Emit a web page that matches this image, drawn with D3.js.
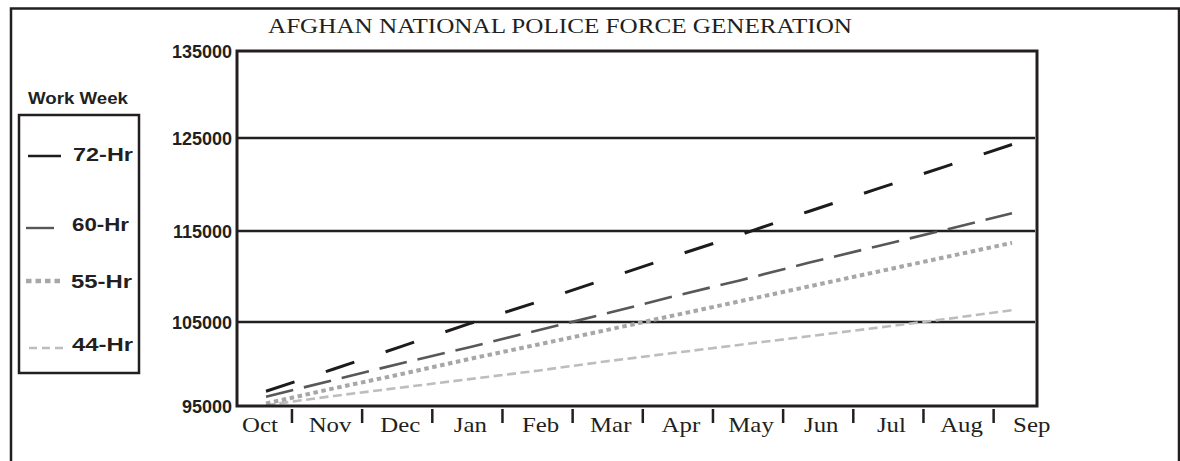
<!DOCTYPE html>
<html>
<head>
<meta charset="utf-8">
<script src="https://cdn.jsdelivr.net/npm/d3@7"></script>
<style>
  html, body { margin: 0; padding: 0; background: #fff; }
  svg { display: block; }
</style>
</head>
<body>
<div id="chart"></div>
<script>
// ---------------- data ----------------
const months = ["Oct","Nov","Dec","Jan","Feb","Mar","Apr","May","Jun","Jul","Aug","Sep"];
const yTicks = [95000, 105000, 115000, 125000, 135000];
const gridValues = [105000, 115000, 125000];
const seriesNames = ["72-Hr", "60-Hr", "55-Hr", "44-Hr"];
const hr72 = [96750, 99400, 102100, 104800, 107200, 109700, 112200, 114600, 117100, 119500, 121900, 124300];
const hr60 = [96100, 98100, 100100, 102000, 104000, 105900, 107800, 109600, 111500, 113300, 115100, 116900];
const hr55 = [95300, 97100, 98800, 100600, 102300, 104000, 105700, 107300, 108900, 110500, 112100, 113700];
const hr44 = [95100, 96200, 97200, 98200, 99200, 100300, 101300, 102300, 103300, 104300, 105300, 106300];
const titleText = "AFGHAN NATIONAL POLICE FORCE GENERATION";
const legendTitle = "Work Week";

// ---------------- layout / styles ----------------
const W = 1180, H = 461;
const plot = { left: 237, top: 51, right: 1037, bottom: 406 };
const ink = "#231f20";
const styles = {
  "72-Hr": { color: "#1e1b1c", width: 3,   dash: "30,33",   legendDash: null },
  "60-Hr": { color: "#58585a", width: 2.6, dash: "28,11",   legendDash: null },
  "55-Hr": { color: "#a7a7a9", width: 4,   dash: "4.5,3.6", legendDash: "5.5,4" },
  "44-Hr": { color: "#bdbdbf", width: 2.6, dash: "9,4.5",   legendDash: "8,5" }
};
const seriesData = { "72-Hr": hr72, "60-Hr": hr60, "55-Hr": hr55, "44-Hr": hr44 };

const svg = d3.select("#chart").append("svg")
  .attr("width", W).attr("height", H)
  .attr("viewBox", `0 0 ${W} ${H}`);

svg.append("rect").attr("width", W).attr("height", H).attr("fill", "#fff");

// outer frame (open at bottom)
svg.append("path")
  .attr("d", `M11,${H} L11,8.5 L1179,8.5 L1179,${H}`)
  .attr("fill", "none").attr("stroke", ink).attr("stroke-width", 2.5);

// ---------------- scales ----------------
const y = d3.scaleLinear().domain(yTicks).range([406, 322, 231, 138, 51]);
const xBand = d3.scaleBand().domain(months).range([221.8, 1063.8]);
const xLine = d3.scalePoint().domain(months).range([266, 1012]);

// title
svg.append("text")
  .attr("x", 268).attr("y", 33)
  .attr("font-family", "'Liberation Serif', 'DejaVu Serif', serif")
  .attr("font-size", 22)
  .attr("textLength", 584).attr("lengthAdjust", "spacingAndGlyphs")
  .attr("fill", ink)
  .text(titleText);

// gridlines
svg.append("g").selectAll("line").data(gridValues).join("line")
  .attr("x1", plot.left).attr("x2", plot.right - 2)
  .attr("y1", d => y(d)).attr("y2", d => y(d))
  .attr("stroke", ink).attr("stroke-width", 2.6);

// series lines
const line = d3.line().x((d, i) => xLine(months[i])).y(d => y(d));
const gLines = svg.append("g");
seriesNames.slice().reverse().forEach(name => {
  const s = styles[name];
  gLines.append("path")
    .datum(seriesData[name])
    .attr("d", line)
    .attr("fill", "none")
    .attr("stroke", s.color)
    .attr("stroke-width", s.width)
    .attr("stroke-dasharray", s.dash)
    .attr("stroke-linecap", "butt");
});

// plot frame (left axis, top, right, bottom)
svg.append("rect")
  .attr("x", plot.left).attr("y", plot.top)
  .attr("width", plot.right - plot.left).attr("height", plot.bottom - plot.top)
  .attr("fill", "none").attr("stroke", ink).attr("stroke-width", 3);

// y tick labels
svg.append("g").selectAll("text").data(yTicks).join("text")
  .attr("x", 232).attr("y", d => y(d) + 6.5)
  .attr("text-anchor", "end")
  .attr("font-family", "'Liberation Sans', Arial, sans-serif")
  .attr("font-weight", "bold").attr("font-size", 18)
  .attr("fill", ink)
  .text(d => d);

// x ticks between months
svg.append("g").selectAll("line").data(months.slice(1)).join("line")
  .attr("x1", d => xBand(d)).attr("x2", d => xBand(d))
  .attr("y1", 409).attr("y2", 423)
  .attr("stroke", ink).attr("stroke-width", 2.5);

// x labels
svg.append("g").selectAll("text").data(months).join("text")
  .attr("transform", d => `translate(${xBand(d) + xBand.bandwidth() / 2 + 3},432) scale(1.13,1)`)
  .attr("text-anchor", "middle")
  .attr("font-family", "'Liberation Serif', 'DejaVu Serif', serif")
  .attr("font-size", 22)
  .attr("fill", ink)
  .text(d => d);

// ---------------- legend ----------------
svg.append("text")
  .attr("x", 78).attr("y", 104)
  .attr("text-anchor", "middle")
  .attr("font-family", "'Liberation Sans', Arial, sans-serif")
  .attr("font-weight", "bold").attr("font-size", 17)
  .attr("textLength", 100).attr("lengthAdjust", "spacingAndGlyphs")
  .attr("fill", ink)
  .text(legendTitle);

svg.append("rect")
  .attr("x", 19).attr("y", 115).attr("width", 120).attr("height", 258)
  .attr("fill", "none").attr("stroke", ink).attr("stroke-width", 2.5);

const legendRows = [
  { name: "72-Hr", ly: 156, x1: 28, x2: 61, ty: 161, tx: 73, tl: 60 },
  { name: "60-Hr", ly: 228, x1: 26, x2: 54, ty: 231, tx: 72, tl: 57 },
  { name: "55-Hr", ly: 281, x1: 26, x2: 64, ty: 288, tx: 71, tl: 61 },
  { name: "44-Hr", ly: 348, x1: 29, x2: 64, ty: 351, tx: 72, tl: 61 }
];
const gLeg = svg.append("g");
legendRows.forEach(r => {
  const s = styles[r.name];
  gLeg.append("line")
    .attr("x1", r.x1).attr("x2", r.x2).attr("y1", r.ly).attr("y2", r.ly)
    .attr("stroke", s.color)
    .attr("stroke-width", r.name === "55-Hr" ? 4.5 : (r.name === "72-Hr" ? 2.6 : 2.4))
    .attr("stroke-dasharray", s.legendDash);
  gLeg.append("text")
    .attr("x", r.tx).attr("y", r.ty)
    .attr("font-family", "'Liberation Sans', Arial, sans-serif")
    .attr("font-weight", "bold").attr("font-size", 18.5)
    .attr("textLength", r.tl).attr("lengthAdjust", "spacingAndGlyphs")
    .attr("fill", ink)
    .text(r.name);
});
</script>
</body>
</html>
